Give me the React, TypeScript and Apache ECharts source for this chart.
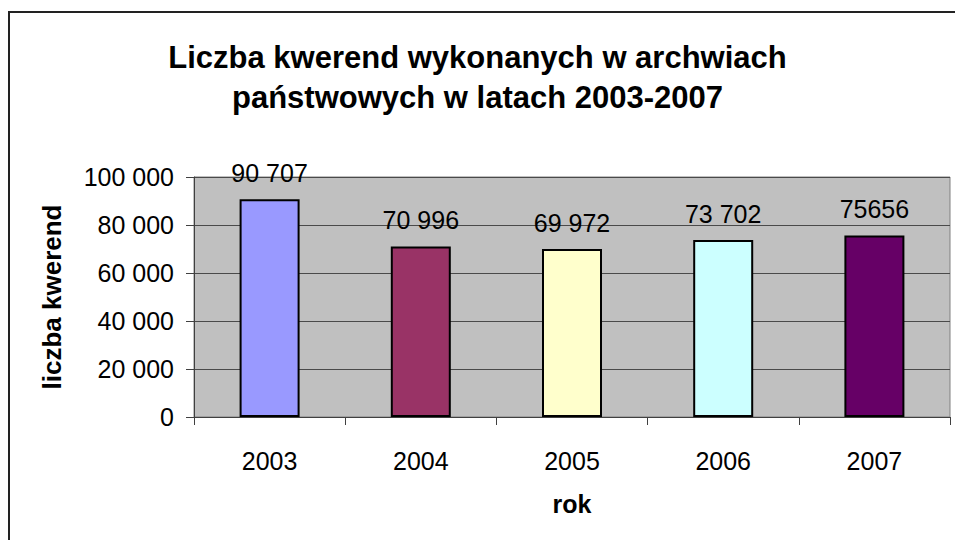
import React, { useEffect, useRef } from "react";
import * as echarts from "echarts";

const years = ["2003", "2004", "2005", "2006", "2007"];
const values = [90707, 70996, 69972, 73702, 75656];
const valueLabels = ["90 707", "70 996", "69 972", "73 702", "75656"];
const barColors = ["#9999FF", "#993366", "#FFFFCC", "#CCFFFF", "#660066"];

const FONT = "'Liberation Sans', Arial, sans-serif";

export default function App() {
  const ref = useRef<HTMLDivElement>(null);
  useEffect(() => {
    if (!ref.current) return;
    const chart = echarts.init(ref.current, undefined, { renderer: "svg" });
    chart.setOption({
      animation: false,
      backgroundColor: "#ffffff",
      textStyle: { fontFamily: FONT, color: "#000" },
      title: {
        text: "Liczba kwerend wykonanych w archwiach\npaństwowych w latach 2003-2007",
        left: "center",
        top: 32,
        textStyle: { fontFamily: FONT, fontSize: 31, fontWeight: "bold", color: "#000", lineHeight: 40 },
      },
      graphic: [
        {
          type: "rect",
          shape: { x: 9, y: 12, width: 1000, height: 1000 },
          style: { fill: "none", stroke: "#222", lineWidth: 2 },
          silent: true,
        },
      ],
      grid: {
        left: 194,
        top: 177,
        width: 756,
        height: 240,
        show: true,
        backgroundColor: "#C0C0C0",
        borderWidth: 1,
        borderColor: "#808080",
      },
      xAxis: {
        type: "category",
        data: years,
        boundaryGap: true,
        name: "rok",
        nameLocation: "middle",
        nameGap: 74,
        nameTextStyle: { fontFamily: FONT, fontSize: 25, fontWeight: "bold", color: "#000" },
        axisLine: { lineStyle: { color: "#404040", width: 1 } },
        axisTick: { show: true, length: 8, alignWithLabel: false, lineStyle: { color: "#404040" } },
        axisLabel: { fontFamily: FONT, fontSize: 25, color: "#000", margin: 31 },
      },
      yAxis: {
        type: "value",
        min: 0,
        max: 100000,
        interval: 20000,
        name: "liczba kwerend",
        nameLocation: "middle",
        nameRotate: 90,
        nameGap: 129,
        nameTextStyle: { fontFamily: FONT, fontSize: 26, fontWeight: "bold", color: "#000" },
        axisLine: { show: true, lineStyle: { color: "#404040", width: 1 } },
        axisTick: { show: true, length: 8, lineStyle: { color: "#404040" } },
        axisLabel: {
          fontFamily: FONT,
          fontSize: 25,
          color: "#000",
          margin: 20,
          formatter: (v: number) => String(v).replace(/\B(?=(\d{3})+(?!\d))/g, " "),
        },
        splitLine: { show: true, lineStyle: { color: "#4a4a4a", width: 1 } },
      },
      series: [
        {
          type: "bar",
          barWidth: 60,
          data: values.map((v, i) => ({
            value: v,
            itemStyle: { color: barColors[i], borderColor: "#000", borderWidth: 2 },
          })),
          label: {
            show: true,
            position: "top",
            distance: 14,
            fontFamily: FONT,
            fontSize: 25,
            color: "#000",
            formatter: (p: any) => valueLabels[p.dataIndex],
          },
        },
      ],
    });
    return () => chart.dispose();
  }, []);
  return <div ref={ref} style={{ position: "fixed", left: 0, top: 0, width: 955, height: 540 }} />;
}
